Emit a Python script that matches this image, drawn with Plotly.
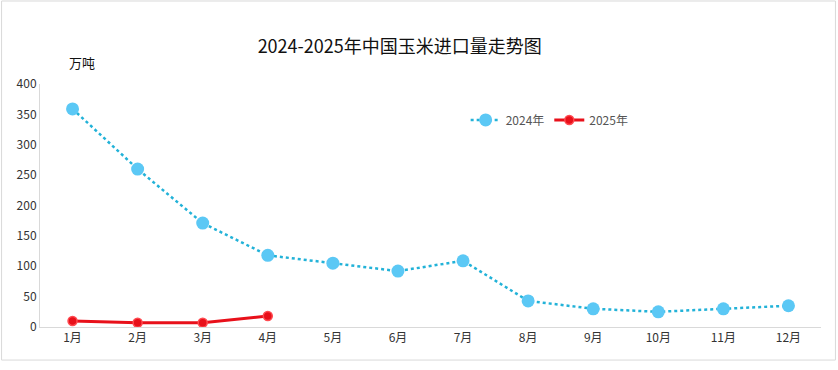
import plotly.graph_objects as go

months = ["1月", "2月", "3月", "4月", "5月", "6月", "7月", "8月", "9月", "10月", "11月", "12月"]
v2024 = [359, 260, 171, 118, 105, 92, 109, 43, 30, 25, 30, 35]
months2025 = ["1月", "2月", "3月", "4月"]
v2025 = [10, 7, 7, 18]
yticks = [0, 50, 100, 150, 200, 250, 300, 350, 400]

FONT = "Noto Sans CJK SC, Microsoft YaHei, sans-serif"

fig = go.Figure()
fig.add_trace(go.Scatter(
    x=months, y=v2024, name="2024年", mode="lines+markers",
    line=dict(color="#22B2D8", width=2.5, dash="dot"),
    marker=dict(color="#5BC8F5", size=13, line=dict(width=0)),
))
fig.add_trace(go.Scatter(
    x=months2025, y=v2025, name="2025年", mode="lines+markers",
    line=dict(color="#E8101A", width=3),
    marker=dict(color="#E8101A", size=9, line=dict(color="#FF4A50", width=1.5)),
))

fig.update_layout(
    width=838, height=370,
    margin=dict(l=39.5, r=16.5, t=84, b=43),
    paper_bgcolor="white", plot_bgcolor="white",
    font=dict(family=FONT, size=12, color="#333333"),
    title=dict(text="2024-2025年中国玉米进口量走势图", x=0.477, xanchor="center",
               y=0.875, yanchor="middle", font=dict(size=18, color="#111111")),
    legend=dict(orientation="h", x=0.545, y=0.852, xanchor="left", yanchor="middle",
                font=dict(size=12, color="#555555"), bgcolor="rgba(0,0,0,0)",
                itemwidth=30, tracegroupgap=0),
    showlegend=True,
    xaxis=dict(type="category", categoryorder="array", categoryarray=months,
               range=[-0.5, 11.5], showgrid=False, showline=True, linecolor="#D9D9D9",
               linewidth=1, ticks="", tickfont=dict(size=12, color="#333333")),
    yaxis=dict(range=[0, 400], tickvals=yticks, showgrid=False, showline=True,
               linecolor="#D9D9D9", linewidth=1, ticks="", zeroline=False,
               tickfont=dict(size=12, color="#333333")),
    shapes=[dict(type="rect", xref="paper", yref="paper", x0=-0.0492, x1=1.0185,
                 y0=-0.136, y1=1.3416, line=dict(color="#D9D9D9", width=1))],
    annotations=[dict(text="万吨", xref="paper", yref="paper", x=0.054, y=1.09,
                      xanchor="center", yanchor="middle", showarrow=False,
                      font=dict(size=13, color="#111111"))],
)

fig.write_html("out.html", config={"displayModeBar": False},
               post_script="document.body.style.margin='0';")
